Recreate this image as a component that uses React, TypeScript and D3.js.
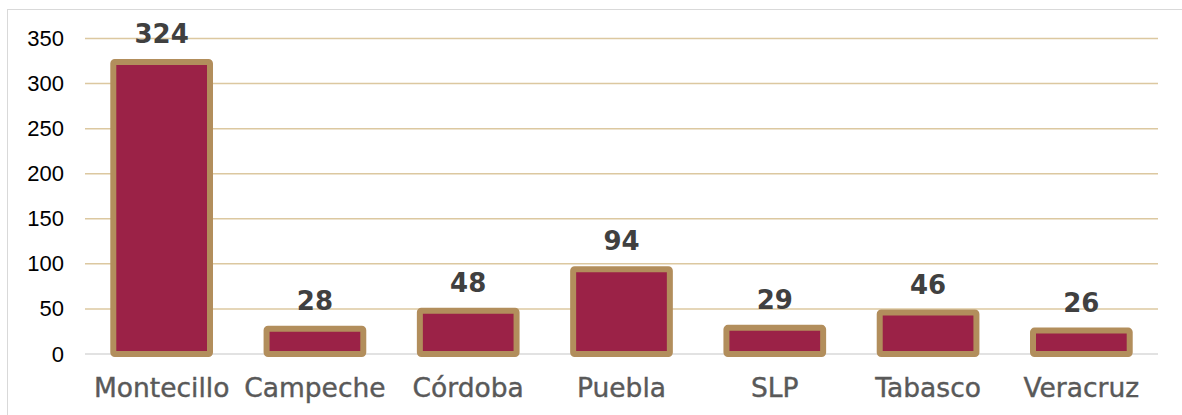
import React, { useEffect, useRef } from 'react';
import * as d3 from 'd3';

const categories = ['Montecillo', 'Campeche', 'Córdoba', 'Puebla', 'SLP', 'Tabasco', 'Veracruz'];
const values = [324, 28, 48, 94, 29, 46, 26];
const yTicks = [0, 50, 100, 150, 200, 250, 300, 350];

const WIDTH = 1182;
const HEIGHT = 415;

const ColumnChart = () => {
  const svgRef = useRef<SVGSVGElement>(null);

  useEffect(() => {
    if (!svgRef.current) return;
    const svg = d3.select(svgRef.current);
    svg.selectAll('*').remove();

    const left = 85;
    const right = 1158;
    const top = 38.5;
    const bottom = 354;

    // chart frame
    svg.append('rect')
      .attr('x', 7.5)
      .attr('y', 9.5)
      .attr('width', WIDTH)
      .attr('height', HEIGHT)
      .attr('fill', '#fff')
      .attr('stroke', '#d9d9d9')
      .attr('stroke-width', 1);

    const x = d3.scaleBand<string>()
      .domain(categories)
      .range([left, right])
      .paddingInner(0.33)
      .paddingOuter(0.165);

    const y = d3.scaleLinear()
      .domain([0, 350])
      .range([bottom, top]);

    // gridlines + y labels
    yTicks.forEach(t => {
      svg.append('line')
        .attr('x1', left)
        .attr('x2', right)
        .attr('y1', y(t))
        .attr('y2', y(t))
        .attr('stroke', t === 0 ? '#d9d9d9' : '#dcc8a0')
        .attr('stroke-width', 1.5);

      svg.append('text')
        .attr('x', 64)
        .attr('y', y(t))
        .attr('text-anchor', 'end')
        .attr('dominant-baseline', 'central')
        .attr('font-family', '"Liberation Sans", Arial, sans-serif')
        .attr('font-size', '22px')
        .attr('fill', '#000')
        .text(t.toString());
    });

    // bars
    const sw = 6;
    categories.forEach((c, i) => {
      const bx = x(c)! + sw / 2;
      const bw = x.bandwidth() - sw;
      const by = y(values[i]);
      const cx = x(c)! + x.bandwidth() / 2;
      svg.append('rect')
        .attr('x', bx)
        .attr('y', by)
        .attr('width', bw)
        .attr('height', bottom - by)
        .attr('rx', 1.5)
        .attr('fill', '#9b2247')
        .attr('stroke', '#b28e5c')
        .attr('stroke-width', sw)
        .attr('stroke-linejoin', 'round');

      svg.append('text')
        .attr('x', cx)
        .attr('y', by - 19)
        .attr('text-anchor', 'middle')
        .attr('font-family', '"DejaVu Sans", sans-serif')
        .attr('font-weight', 'bold')
        .attr('font-size', '26px')
        .attr('fill', '#404040')
        .text(values[i].toString());

      svg.append('text')
        .attr('x', cx)
        .attr('y', 397)
        .attr('text-anchor', 'middle')
        .attr('font-family', '"DejaVu Sans", sans-serif')
        .attr('font-size', '26.5px')
        .attr('fill', '#595959')
        .attr('stroke', '#595959')
        .attr('stroke-width', 0.4)
        .text(c);
    });
  }, []);

  return <svg ref={svgRef} width={WIDTH} height={HEIGHT} style={{ display: 'block' }} />;
};

export default function App() {
  return (
    <div style={{ position: 'absolute', left: 0, top: 0 }}>
      <ColumnChart />
    </div>
  );
}
